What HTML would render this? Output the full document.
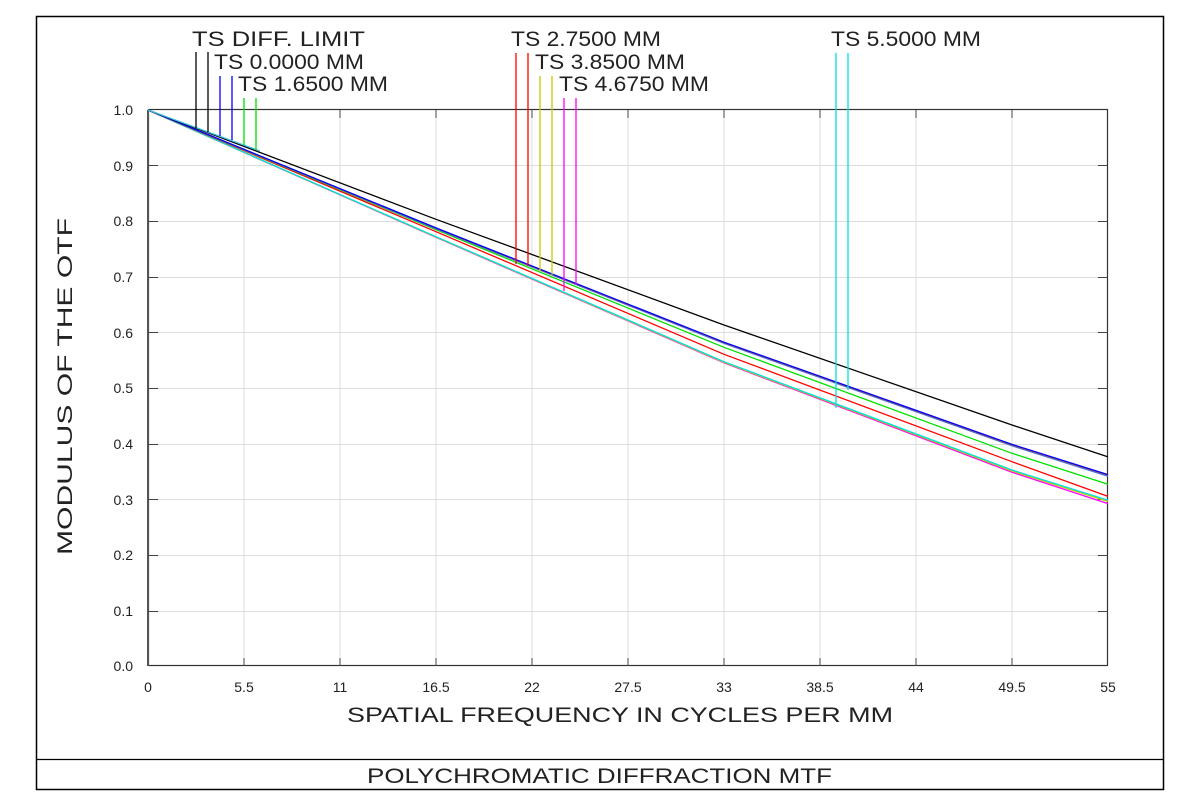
<!DOCTYPE html>
<html><head><meta charset="utf-8"><style>html,body{margin:0;padding:0;background:#fff}svg{display:block}</style></head>
<body>
<svg width="1200" height="802" viewBox="0 0 1200 802" xmlns="http://www.w3.org/2000/svg" font-family="Liberation Sans, sans-serif" fill="#222">
<rect x="0" y="0" width="1200" height="802" fill="#fff"/>
<rect x="36.5" y="16.5" width="1127" height="773" fill="none" stroke="#000" stroke-width="1.5"/>
<line x1="36" y1="759.5" x2="1164" y2="759.5" stroke="#000" stroke-width="1.2"/>
<g stroke="#ddd" stroke-width="1">
<line x1="244" y1="110" x2="244" y2="666"/><line x1="340" y1="110" x2="340" y2="666"/><line x1="436" y1="110" x2="436" y2="666"/><line x1="532" y1="110" x2="532" y2="666"/><line x1="628" y1="110" x2="628" y2="666"/><line x1="724" y1="110" x2="724" y2="666"/><line x1="820" y1="110" x2="820" y2="666"/><line x1="916" y1="110" x2="916" y2="666"/><line x1="1012" y1="110" x2="1012" y2="666"/>
<line x1="148" y1="165.5" x2="1108" y2="165.5"/><line x1="148" y1="221.5" x2="1108" y2="221.5"/><line x1="148" y1="277.5" x2="1108" y2="277.5"/><line x1="148" y1="332.5" x2="1108" y2="332.5"/><line x1="148" y1="388.5" x2="1108" y2="388.5"/><line x1="148" y1="444.5" x2="1108" y2="444.5"/><line x1="148" y1="499.5" x2="1108" y2="499.5"/><line x1="148" y1="555.5" x2="1108" y2="555.5"/><line x1="148" y1="611.5" x2="1108" y2="611.5"/>
</g>
<rect x="148.5" y="109.5" width="959" height="556" fill="none" stroke="#333" stroke-width="1.2"/>
<line x1="148" y1="110" x2="148" y2="666" stroke="#555" stroke-width="2"/>
<g stroke="#444" stroke-width="1">
<path d="M244 110v8M340 110v8M436 110v8M532 110v8M628 110v8M724 110v8M820 110v8M916 110v8M1012 110v8"/>
<path d="M244 666v-8M340 666v-8M436 666v-8M532 666v-8M628 666v-8M724 666v-8M820 666v-8M916 666v-8M1012 666v-8"/>
<path d="M148 165.5h10M148 221.5h10M148 277.5h10M148 332.5h10M148 388.5h10M148 444.5h10M148 499.5h10M148 555.5h10M148 611.5h10"/>
<path d="M1108 165.5h-10M1108 221.5h-10M1108 277.5h-10M1108 332.5h-10M1108 388.5h-10M1108 444.5h-10M1108 499.5h-10M1108 555.5h-10M1108 611.5h-10"/>
</g>
<g fill="none" stroke-width="1.3" stroke-linejoin="round">
<path d="M148 110 L436 237.3 L724 362.8 L1012 472.3 L1108 503.6" stroke="#ff00ff"/>
<path d="M148 110 L436 237 L724 362.3 L1012 471 L1108 501.5" stroke="#c8c800"/>
<path d="M148 110 L436 236.7 L724 361.7 L1012 470 L1108 500.2" stroke="#00e0e0"/>
<path d="M148 110 L436 231.7 L724 354.3 L1012 461.7 L1108 496.4" stroke="#ff0000"/>
<path d="M148 110 L436 229.6 L724 347.3 L1012 453.3 L1108 484.2" stroke="#00e000"/>
<path d="M148 110 L436 228.8 L724 343.4 L1012 445.8 L1108 476.2" stroke="#3070ff"/>
<path d="M148 110 L436 228.3 L724 342.7 L1012 445 L1108 475.3" stroke="#c06020"/>
<path d="M148 110 L436 227.9 L724 342.2 L1012 444.4 L1108 474.6" stroke="#0000ff"/>
<path d="M148 110 L436 219.3 L724 325 L1012 425 L1108 456.9" stroke="#000"/>
<path d="M148 110 L260 151" stroke="#40c0e0"/>
</g>
<g stroke-width="1.3">
<line x1="196" y1="52" x2="196" y2="128" stroke="#000"/>
<line x1="208" y1="52" x2="208" y2="132" stroke="#000"/>
<line x1="220" y1="76" x2="220" y2="136" stroke="#0000ff"/>
<line x1="232" y1="76" x2="232" y2="140" stroke="#0000ff"/>
<line x1="244" y1="98" x2="244" y2="145" stroke="#00e000"/>
<line x1="256" y1="98" x2="256" y2="150" stroke="#00e000"/>
<line x1="516" y1="53" x2="516" y2="264" stroke="#ff0000"/>
<line x1="528" y1="53" x2="528" y2="266" stroke="#ff0000"/>
<line x1="540" y1="76" x2="540" y2="272" stroke="#c8c800"/>
<line x1="552" y1="76" x2="552" y2="275" stroke="#c8c800"/>
<line x1="564" y1="98" x2="564" y2="291" stroke="#ff00ff"/>
<line x1="576" y1="98" x2="576" y2="285" stroke="#ff00ff"/>
<line x1="836" y1="53" x2="836" y2="408" stroke="#00e0e0"/>
<line x1="848" y1="53" x2="848" y2="390" stroke="#00e0e0"/>
</g>
<g font-size="21">
<text x="192" y="46" textLength="173" lengthAdjust="spacingAndGlyphs">TS DIFF. LIMIT</text>
<text x="214" y="69" textLength="150" lengthAdjust="spacingAndGlyphs">TS 0.0000 MM</text>
<text x="238" y="91" textLength="150" lengthAdjust="spacingAndGlyphs">TS 1.6500 MM</text>
<text x="511" y="46" textLength="150" lengthAdjust="spacingAndGlyphs">TS 2.7500 MM</text>
<text x="535" y="69" textLength="150" lengthAdjust="spacingAndGlyphs">TS 3.8500 MM</text>
<text x="559" y="91" textLength="150" lengthAdjust="spacingAndGlyphs">TS 4.6750 MM</text>
<text x="831" y="46" textLength="150" lengthAdjust="spacingAndGlyphs">TS 5.5000 MM</text>
</g>
<g font-size="14" text-anchor="end">
<text x="133" y="115">1.0</text><text x="133" y="171">0.9</text><text x="133" y="226">0.8</text><text x="133" y="282">0.7</text><text x="133" y="338">0.6</text><text x="133" y="393">0.5</text><text x="133" y="449">0.4</text><text x="133" y="505">0.3</text><text x="133" y="560">0.2</text><text x="133" y="616">0.1</text><text x="133" y="671">0.0</text>
</g>
<g font-size="14" text-anchor="middle">
<text x="148" y="692">0</text><text x="244" y="692">5.5</text><text x="340" y="692">11</text><text x="436" y="692">16.5</text><text x="532" y="692">22</text><text x="628" y="692">27.5</text><text x="724" y="692">33</text><text x="820" y="692">38.5</text><text x="916" y="692">44</text><text x="1012" y="692">49.5</text><text x="1108" y="692">55</text>
</g>
<text x="347" y="722" font-size="21" textLength="546" lengthAdjust="spacingAndGlyphs">SPATIAL FREQUENCY IN CYCLES PER MM</text>
<text transform="translate(72,555) rotate(-90)" font-size="21" textLength="337" lengthAdjust="spacingAndGlyphs">MODULUS OF THE OTF</text>
<text x="367" y="783" font-size="21" textLength="465" lengthAdjust="spacingAndGlyphs">POLYCHROMATIC DIFFRACTION MTF</text>
</svg>
</body></html>
